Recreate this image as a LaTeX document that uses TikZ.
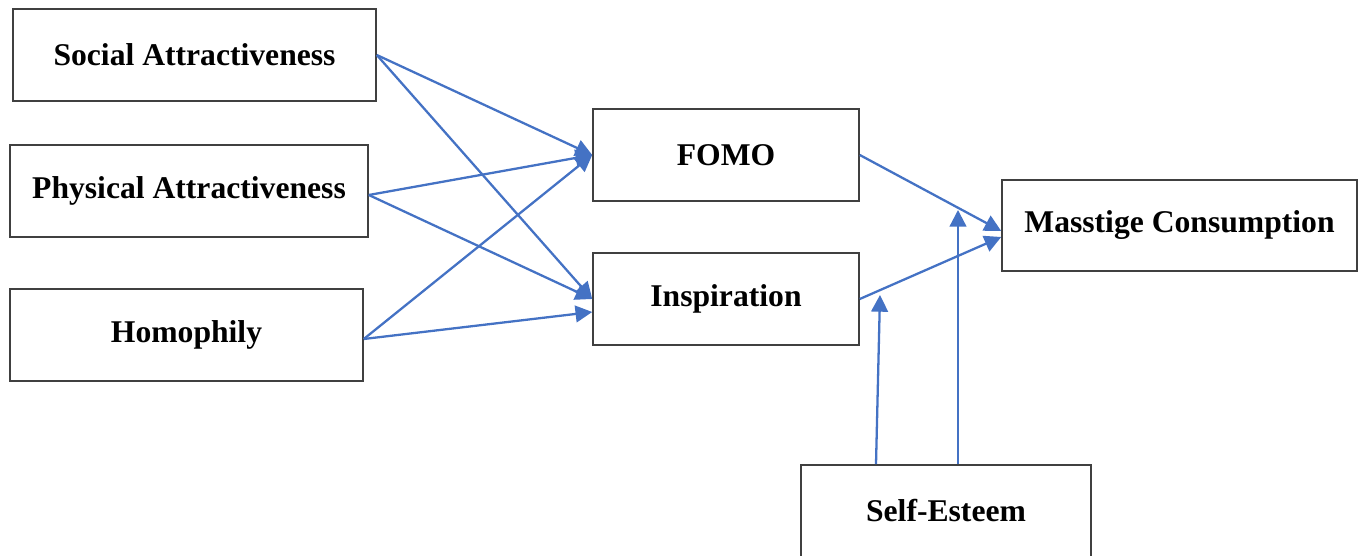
\documentclass[tikz,border=0pt]{standalone}
\usepackage{fontspec}
\setmainfont{Liberation Serif}
\usetikzlibrary{arrows.meta,calc}
\definecolor{linkblue}{HTML}{4472C4}
\definecolor{boxgray}{HTML}{404040}

\begin{document}
\begin{tikzpicture}[font=\fontsize{18}{21}\selectfont\bfseries,
  box/.style={draw=boxgray, line width=0.9pt, minimum height=1.84cm, inner sep=0pt},
  link/.style={draw=linkblue, line width=1.3pt, -{Triangle[length=9.5pt,width=9.5pt]}}]
  \useasboundingbox (0,0) rectangle (27.22,11.12);

  % predictors
  \node[box, minimum width=7.26cm] (soc) at (3.89,10.02) {Social Attractiveness};
  \node[box, minimum width=7.16cm] (phys) at (3.78,7.30) {Physical Attractiveness};
  \node[box, minimum width=7.06cm] (homo) at (3.73,4.42) {Homophily};

  % mediators, outcome, moderator
  \node[box, minimum width=5.32cm] (fomo) at (14.52,8.02) {FOMO};
  \node[box, minimum width=5.32cm] (insp) at (14.52,5.14) {Inspiration};
  \node[box, minimum width=7.10cm, minimum height=1.82cm] (mc) at (23.59,6.61) {Masstige Consumption};
  \node[box, minimum width=5.80cm] (se) at (18.92,0.90) {Self-Esteem};

  % anchor points for the paths
  \coordinate (inspLow) at ($(insp.west)+(0,-0.26)$);
  \coordinate (mcA) at ($(mc.west)+(0,-0.11)$);
  \coordinate (mcB) at ($(mc.west)+(0,-0.23)$);
  \coordinate (seA) at ($(se.north)+(-1.40,0)$);
  \coordinate (seB) at ($(se.north)+(0.24,0)$);
  \coordinate (modA) at (17.60,5.22);
  \coordinate (modB) at (19.16,6.92);

  % paths to the mediators
  \draw[link] (soc.east) -- (fomo.west);
  \draw[link] (soc.east) -- (insp.west);
  \draw[link] ($(phys.east)+(0,-0.08)$) -- (fomo.west);
  \draw[link] ($(phys.east)+(0,-0.08)$) -- (insp.west);
  \draw[link] ($(homo.east)+(0,-0.08)$) -- (fomo.west);
  \draw[link] ($(homo.east)+(0,-0.08)$) -- (inspLow);

  % paths to the outcome
  \draw[link] (fomo.east) -- (mcA);
  \draw[link] (insp.east) -- (mcB);

  % moderation
  \draw[link] (seA) -- (modA);
  \draw[link] (seB) -- (modB);
\end{tikzpicture}
\end{document}
